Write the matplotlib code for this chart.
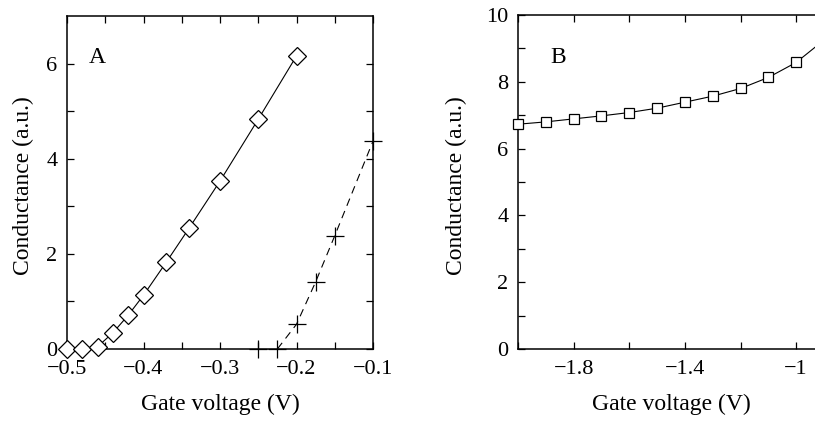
import matplotlib.pyplot as plt
import numpy as np

plt.rcParams['font.family'] = ['Liberation Serif', 'DejaVu Serif']
plt.rcParams['font.size'] = 16

# Panel A data
vg_diamond = [-0.50, -0.48, -0.46, -0.44, -0.42, -0.40, -0.37, -0.34, -0.30, -0.25, -0.20]
g_diamond = [0.0, 0.0, 0.05, 0.34, 0.71, 1.13, 1.83, 2.55, 3.53, 4.83, 6.16]
vg_cross = [-0.25, -0.225, -0.20, -0.175, -0.15, -0.10]
g_cross = [0.0, 0.0, 0.52, 1.41, 2.38, 4.37]

# Panel B data
vg_square = [-2.0, -1.9, -1.8, -1.7, -1.6, -1.5, -1.4, -1.3, -1.2, -1.1, -1.0, -0.9]
g_square = [6.73, 6.80, 6.89, 6.98, 7.08, 7.21, 7.39, 7.57, 7.80, 8.13, 8.58, 9.25]

W, H = 815, 421
fig = plt.figure(figsize=(W / 100, H / 100), dpi=100)
axA = fig.add_axes([67 / W, 1 - 349 / H, 306 / W, 333 / H])
axB = fig.add_axes([518 / W, 1 - 349 / H, 306 / W, 334 / H])


def style(ax, ylab_x):
    for s in ax.spines.values():
        s.set_linewidth(1.1)
    ax.tick_params(which='both', direction='in', top=True, right=True,
                   length=5, width=0.9, labelsize=16)
    ax.tick_params(axis='x', pad=8)
    ax.tick_params(axis='y', pad=7)
    ax.set_xlabel('Gate voltage (V)', fontsize=17)
    ax.set_ylabel('Conductance (a.u.)', fontsize=17)
    ax.xaxis.set_label_coords(0.5, -0.135)
    # label anchor is its right edge (rotated text, va='bottom')
    ax.yaxis.set_label_coords(ylab_x, 0.49)


# ---- A
axA.plot(vg_diamond, g_diamond, '-', color='black', lw=0.8)
axA.plot(vg_diamond, g_diamond, ls='none', marker='D', ms=9.5, mfc='white',
         mec='black', mew=0.9, clip_on=False, zorder=3)
axA.plot(vg_cross[1:], g_cross[1:], color='black', lw=0.8, dashes=(7, 5))
axA.plot(vg_cross, g_cross, ls='none', marker='+', ms=13, mew=0.9, color='black',
         clip_on=False, zorder=3)
axA.set_xlim(-0.5, -0.1)
axA.set_ylim(0, 7)
axA.set_xticks([-0.5, -0.4, -0.3, -0.2, -0.1])
axA.set_xticks(np.arange(-0.45, -0.1, 0.1), minor=True)
axA.set_yticks([0, 2, 4, 6])
axA.set_yticks([1, 3, 5], minor=True)
axA.set_xticklabels(['\u22120.5', '\u22120.4', '\u22120.3', '\u22120.2', '\u22120.1'])
axA.text(-0.46, 6.13, 'A', fontsize=17, va='center', ha='center')
style(axA, -0.108)

# ---- B
axB.plot(vg_square, g_square, '-', color='black', lw=0.8)
axB.plot(vg_square, g_square, ls='none', marker='s', ms=6.5, mfc='white',
         mec='black', mew=0.9, clip_on=False, zorder=3)
axB.set_xlim(-2.0, -0.9)
axB.set_ylim(0, 10)
axB.set_xticks([-1.8, -1.4, -1.0])
axB.set_xticks([-2.0, -1.6, -1.2], minor=True)
axB.set_xticklabels(['\u22121.8', '\u22121.4', '\u22121'])
axB.set_yticks([0, 2, 4, 6, 8, 10])
axB.set_yticks([1, 3, 5, 7, 9], minor=True)
axB.text(-1.856, 8.74, 'B', fontsize=17, va='center', ha='center')
style(axB, -0.167)

fig.savefig('out.png', dpi=100)
